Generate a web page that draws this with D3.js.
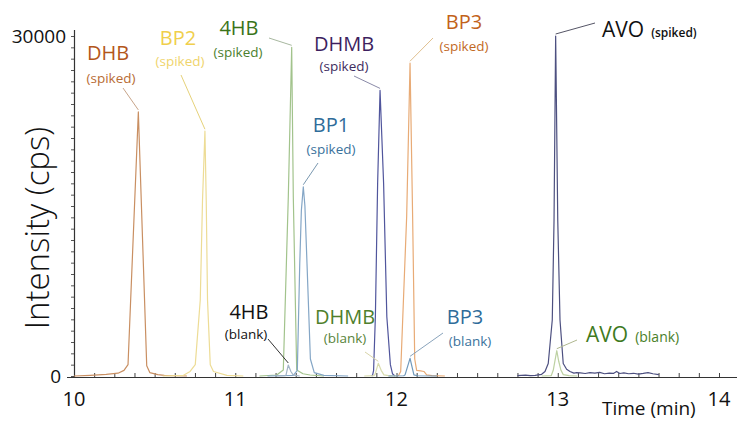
<!DOCTYPE html>
<html>
<head>
<meta charset="utf-8">
<script src="https://cdn.jsdelivr.net/npm/d3@7"></script>
<style>
  html, body { margin: 0; padding: 0; background: #fff; }
  svg { display: block; font-family: "Open Sans", "DejaVu Sans", sans-serif; }
</style>
</head>
<body>
<svg id="chart" width="737" height="422"></svg>
<script>
// ---------- DATA (time in min, intensity in cps) ----------
const xTicksMajor = [10, 11, 12, 13, 14];
const yTicksLabelled = [0, 30000];

const dhbSpiked = [[10.00,0],[10.10,60],[10.20,150],[10.273,250],[10.31,500],[10.335,1000],[10.399,23300],[10.451,900],[10.47,300],[10.52,120],[10.56,60],[10.70,0]];
const bp2Spiked = [[10.55,0],[10.679,60],[10.72,400],[10.752,1000],[10.783,6700],[10.797,15500],[10.812,21600],[10.82,15500],[10.828,6700],[10.845,1000],[10.865,400],[10.948,60],[11.05,0]];
const hb4Spiked = [[11.15,0],[11.257,90],[11.298,530],[11.329,15800],[11.350,29000],[11.360,15800],[11.381,530],[11.42,200],[11.464,90],[11.55,0]];
const bp1Spiked = [[11.20,0],[11.36,50],[11.385,500],[11.40,9900],[11.41,14600],[11.422,16700],[11.432,15000],[11.445,9900],[11.466,1500],[11.49,300],[11.55,50],[11.70,0]];
const dhmbSpiked = [[11.846,0],[11.852,100],[11.858,500],[11.869,5230],[11.883,17000],[11.898,25200],[11.920,17000],[11.940,5230],[11.962,1000],[11.975,200],[11.99,0]];
const bp3Spiked = [[12.011,0],[12.026,400],[12.063,14060],[12.084,27600],[12.100,14060],[12.113,1500],[12.125,500],[12.15,450],[12.17,400],[12.187,100],[12.22,30],[12.30,0]];
const avoSpiked = [[12.75,40],[12.80,80],[12.83,30],[12.86,60],[12.90,150],[12.921,400],[12.941,1100],[12.966,4940],[12.977,13760],[12.987,30000],[13.000,13760],[13.014,4940],[13.034,1100],[13.055,600],[13.076,400],[13.10,250],[13.118,300],[13.14,280],[13.17,220],[13.20,300],[13.23,250],[13.26,320],[13.29,200],[13.32,260],[13.345,230],[13.365,400],[13.385,220],[13.41,280],[13.44,200],[13.47,240],[13.50,170],[13.53,230],[13.56,300],[13.59,200],[13.627,120]];

const hb4Blank = [[11.25,0],[11.31,30],[11.315,100],[11.329,970],[11.345,400],[11.36,80],[11.40,0]];
const dhmbBlank = [[11.80,0],[11.86,30],[11.867,150],[11.887,1120],[11.905,500],[11.922,100],[11.95,30],[12.00,0]];
const bp3Blank = [[11.95,0],[12.045,20],[12.053,100],[12.084,1560],[12.108,100],[12.13,20],[12.25,0]];
const avoBlank = [[12.90,0],[12.96,40],[12.972,500],[12.994,2230],[13.006,1300],[13.02,500],[13.034,120],[13.07,30],[13.12,0]];

const compoundNames = ["DHB","BP2","4HB","BP1","DHMB","BP3","AVO","4HB","DHMB","BP3","AVO"];
const sampleTags = ["(spiked)","(spiked)","(spiked)","(spiked)","(spiked)","(spiked)","(spiked)","(blank)","(blank)","(blank)","(blank)"];
const traces = [dhbSpiked,bp2Spiked,hb4Spiked,bp1Spiked,dhmbSpiked,bp3Spiked,avoSpiked,hb4Blank,dhmbBlank,bp3Blank,avoBlank];

// ---------- STYLES / LAYOUT ----------
const lineColors  = ["#c98f62","#eddc95","#a2c38c","#84a6c6","#50559c","#e8ab76","#4d5080","#a3b5c6","#d9dcae","#7099bc","#bdd1a2"];
const labelColors = ["#b3561a","#f0cf4c","#3a7419","#2f6c9a","#3d1f5f","#c2621a","#111111","#111111","#4f7f2c","#2f6c9a","#3f7a1e"];
const tagColors   = ["#b86c34","#efd46c","#4c802e","#3a729c","#3e2c60","#c2691f","#111111","#111111","#58843a","#3a729c","#4a8028"];
const leaderColors= ["#c8a58a","#e6d27a","#a8b8a0","#7a98b0","#8a8aa8","#e0c090","#555566","#333333","#d8d4a8","#8aa4bc","#b0b890"];
// annotation anchors in pixels: [nameX, nameY, tagX, tagY, anchor, inline, leaderStartX, leaderStartY]
const annot = [
  [108, 60, 111, 83, "middle", false, 123, 88],
  [178, 45, 180, 66, "middle", false, 181, 75],
  [239, 35, 238, 57, "middle", false, 269, 38],
  [331, 132, 331, 154, "middle", false, 318, 163],
  [344, 51, 344, 71, "middle", false, 354, 76],
  [464, 29, 464, 51, "middle", false, 433, 38],
  [602, 37, 0, 0, "start", true, 595, 23],
  [249, 319, 246, 339, "middle", false, 268, 339],
  [345, 324, 345, 343, "middle", false, 365, 352],
  [465, 324, 470, 346, "middle", false, 443, 333],
  [586, 342, 0, 0, "start", true, 577, 340]
];

const svg = d3.select("#chart");
const x = d3.scaleLinear().domain([10, 14]).range([74, 719]);
const y = d3.scaleLinear().domain([0, 30000]).range([376, 36]);

// Axes
const xAxis = d3.axisBottom(x).tickValues(d3.range(10, 14.0001, 0.125)).tickSize(-4).tickFormat("");
const gx = svg.append("g").attr("transform", "translate(0,377)").call(xAxis);
gx.select(".domain").remove();
gx.selectAll(".tick line").attr("stroke", "#444").attr("stroke-width", 1);
svg.append("line").attr("x1", 67).attr("x2", 737).attr("y1", 377.5).attr("y2", 377.5).attr("stroke", "#333").attr("stroke-width", 1.2);

const yAxis = d3.axisLeft(y).tickValues(d3.range(0, 30001, 1000)).tickSize(3).tickFormat("");
const gy = svg.append("g").attr("transform", "translate(74,0)").call(yAxis);
gy.select(".domain").remove();
gy.selectAll(".tick line").attr("stroke", "#555");
svg.append("line").attr("x1", 74.5).attr("x2", 74.5).attr("y1", 30).attr("y2", 378).attr("stroke", "#333").attr("stroke-width", 1.2);

svg.selectAll(".xlab").data(xTicksMajor).enter().append("text")
  .attr("x", d => x(d)).attr("y", 406).attr("text-anchor", "middle")
  .attr("font-size", 20).attr("fill", "#111").text(d => d);
svg.selectAll(".ylab").data(yTicksLabelled).enter().append("text")
  .attr("x", d => d === 0 ? 61 : 66).attr("y", d => y(d) + 7).attr("text-anchor", "end")
  .attr("font-size", 19).attr("fill", "#111").text(d => d);

svg.append("text").attr("x", 602).attr("y", 415).attr("font-size", 19).attr("fill", "#111").text("Time (min)");
svg.append("text").attr("transform", "translate(49,228) rotate(-90)").attr("text-anchor", "middle")
  .attr("font-size", 33).attr("font-weight", 300).attr("fill", "#111").text("Intensity (cps)");

// Traces
const line = d3.line().x(d => x(d[0])).y(d => y(d[1]));
svg.append("g").selectAll("path").data(traces).enter().append("path")
  .attr("d", line).attr("fill", "none")
  .attr("stroke", (d, i) => lineColors[i]).attr("stroke-width", 1.2)
  .attr("stroke-linejoin", "round");

// Annotations
traces.forEach((tr, i) => {
  const apex = tr.reduce((a, b) => (b[1] > a[1] ? b : a));
  const a = annot[i];
  svg.append("line").attr("x1", a[6]).attr("y1", a[7])
    .attr("x2", x(apex[0])).attr("y2", y(apex[1]) - 2)
    .attr("stroke", leaderColors[i]).attr("stroke-width", 1);
  if (a[5]) {
    const t = svg.append("text").attr("x", a[0]).attr("y", a[1]).attr("text-anchor", "start");
    t.append("tspan").attr("font-size", 21).attr("fill", labelColors[i]).text(compoundNames[i]);
    t.append("tspan").attr("font-size", i === 6 ? 12 : 14).attr("font-weight", i === 6 ? 600 : 500)
      .attr("fill", tagColors[i]).attr("dx", 7).text(sampleTags[i]);
  } else {
    svg.append("text").attr("x", a[0]).attr("y", a[1]).attr("text-anchor", "middle")
      .attr("font-size", 20).attr("fill", labelColors[i]).text(compoundNames[i]);
    svg.append("text").attr("x", a[2]).attr("y", a[3]).attr("text-anchor", "middle")
      .attr("font-size", 13.5).attr("font-weight", 500).attr("fill", tagColors[i]).text(sampleTags[i]);
  }
});
</script>
</body>
</html>
